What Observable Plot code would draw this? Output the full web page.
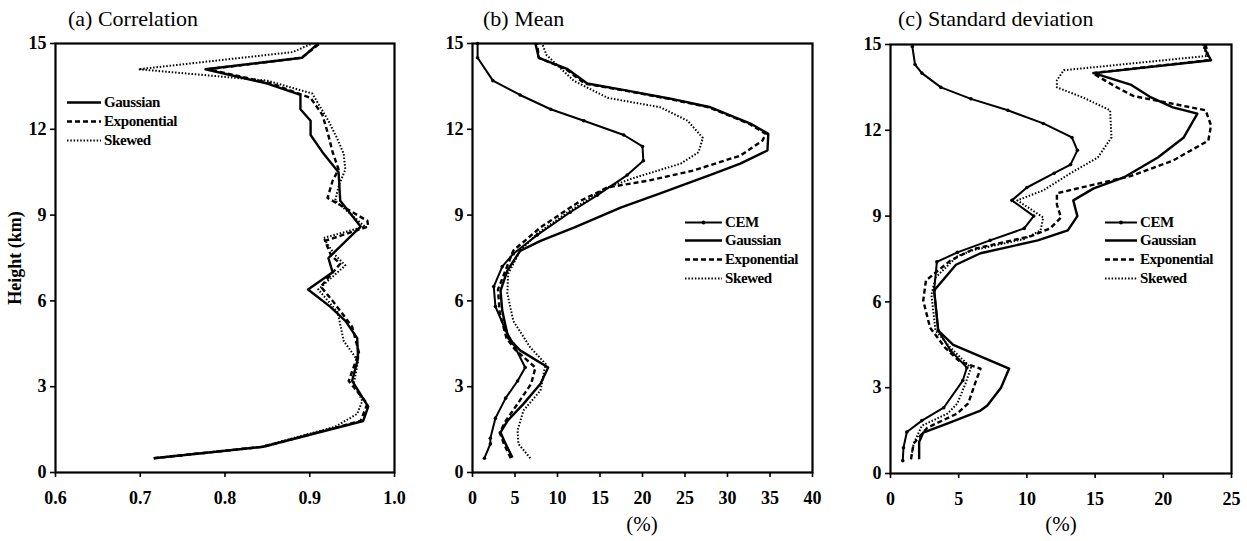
<!DOCTYPE html>
<html><head><meta charset="utf-8">
<script src="https://cdn.jsdelivr.net/npm/d3@7"></script>
<script src="https://cdn.jsdelivr.net/npm/@observablehq/plot@0.6"></script>
<style>
body{margin:0;background:#fff;}
#wrap{position:relative;width:1247px;height:541px;font-family:"Liberation Serif","Times New Roman",serif;color:#000;overflow:hidden;}
.panel{position:absolute;top:0;}
.title{position:absolute;font-size:22px;line-height:1;white-space:nowrap;}
.unit{position:absolute;font-size:21px;line-height:1;transform:translateX(-50%);}
.ylab{position:absolute;font-size:18px;font-weight:bold;white-space:nowrap;transform:translate(-50%,-50%) rotate(-90deg);}
.leg{position:absolute;display:flex;align-items:center;font-size:15px;font-weight:bold;letter-spacing:-0.4px;line-height:1;white-space:nowrap;transform:translateY(-50%);}
.leg svg{display:block;margin-right:3px;}
</style></head>
<body><div id="wrap"></div>
<script>
// ---------- data: heights (km) and values ----------
// (a) Correlation
const aGaussH = [0.5,0.9,1.8,2.3,3.2,4.0,4.7,5.3,5.8,6.4,7.0,7.5,8.6,9.5,10.5,11.2,11.8,12.3,12.7,13.2,13.6,14.1,14.5,15.0];
const aGaussV = [0.716,0.845,0.963,0.969,0.950,0.957,0.956,0.942,0.924,0.898,0.927,0.922,0.960,0.936,0.934,0.915,0.901,0.901,0.889,0.889,0.850,0.777,0.891,0.910];
const aExpoH = [0.5,0.9,1.8,2.4,3.2,4.2,5.1,6.0,6.5,7.3,7.6,8.1,8.6,8.8,9.4,9.6,10.2,10.6,11.2,11.9,12.5,13.1,13.6,14.1,14.5,15.0];
const aExpoV = [0.716,0.845,0.960,0.968,0.946,0.958,0.950,0.927,0.913,0.936,0.925,0.918,0.969,0.968,0.933,0.921,0.927,0.934,0.927,0.921,0.915,0.901,0.855,0.780,0.890,0.912];
const aSkewH = [0.5,0.9,1.6,2.05,2.5,3.1,3.9,4.6,5.6,6.4,7.24,7.6,8.2,8.6,9.5,10.0,10.6,11.15,11.7,12.3,13.25,13.7,14.1,14.7,15.0];
const aSkewV = [0.716,0.843,0.930,0.956,0.962,0.952,0.957,0.940,0.933,0.910,0.942,0.930,0.916,0.965,0.930,0.934,0.942,0.940,0.932,0.922,0.903,0.850,0.698,0.880,0.903];

// (b) Mean (%)
const bCemH = [0.5,1.0,1.2,1.9,2.6,3.2,3.67,4.5,4.97,5.8,6.5,7.2,7.65,8.3,9.1,9.7,10.4,10.9,11.4,11.8,12.3,12.7,13.2,13.7,14.5,15.0];
const bCemV = [1.4,2.1,2.1,2.7,3.9,5.3,6.2,4.8,3.9,2.7,2.5,3.5,4.8,7.6,11.5,14.7,18.2,20.1,20.0,17.8,13.1,9.2,5.6,2.4,0.6,0.6];
const bGaussH = [0.52,1.0,1.4,1.8,2.4,3.1,3.67,4.27,4.7,5.66,6.36,7.06,7.75,8.1,8.57,9.27,9.75,10.45,10.8,11.26,11.84,12.2,12.77,13.07,13.35,13.6,14.1,14.5,15.0];
const bGaussV = [4.7,3.9,3.3,4.1,6.0,8.0,8.9,5.6,4.2,3.5,3.3,4.1,5.6,8.0,12.0,17.5,22.0,28.4,31.5,34.7,34.8,32.7,28.0,23.3,18.2,13.5,11.2,7.8,7.4];
const bExpoH = [0.5,1.0,1.4,1.8,2.4,3.1,3.67,4.3,4.7,5.6,6.4,7.0,7.76,8.57,9.5,9.97,10.2,10.56,11.08,11.6,11.84,12.2,12.77,13.07,13.35,13.6,14.1,14.5,15.0];
const bExpoV = [4.5,3.7,3.2,3.9,5.3,6.9,7.4,5.0,4.0,3.2,3.0,3.8,4.8,8.0,12.7,15.9,20.6,26.0,31.5,34.1,34.5,32.5,27.8,23.0,18.0,13.2,11.0,7.8,7.6];
const bSkewH = [0.5,1.0,1.47,2.17,2.87,3.8,4.37,5.3,6.26,6.95,7.75,8.35,9.16,9.97,10.3,10.8,11.2,11.7,12.3,12.77,13.1,13.7,14.6,15.0];
const bSkewV = [6.8,5.4,5.3,6.0,8.0,8.6,6.8,4.8,4.1,4.2,5.6,7.6,11.5,15.9,19.0,24.5,26.6,27.1,25.3,22.1,15.9,11.9,8.7,8.2];

// (c) Standard deviation (%)
const cCemH = [0.45,0.9,1.45,1.85,2.3,3.25,3.7,4.3,5.0,6.4,7.4,7.73,8.15,8.57,9.0,9.55,10.0,10.5,10.8,11.3,11.75,12.24,12.7,13.1,13.5,14.0,14.3,14.93];
const cCemV = [0.9,0.95,1.2,2.3,3.9,5.3,5.6,4.4,3.5,3.2,3.4,4.9,7.3,9.8,10.5,8.9,10.0,12.0,13.2,13.7,13.3,11.2,8.6,5.9,3.7,2.3,1.8,1.6];
const cGaussH = [0.5,1.1,1.43,1.75,2.2,2.38,3.0,3.67,4.5,5.0,6.4,7.3,7.7,8.15,8.5,9.0,9.55,9.97,10.35,11.05,11.75,12.58,12.8,13.15,13.6,14.0,14.45,14.8,15.0];
const cGaussV = [2.1,2.1,2.4,4.2,6.6,7.1,8.1,8.7,4.6,3.5,3.2,4.8,6.6,10.8,13.0,13.7,13.4,14.9,17.1,19.6,21.5,22.5,20.7,19.1,17.6,14.9,23.5,23.1,23.0];
const cExpoH = [0.5,1.05,1.6,2.1,2.45,3.15,3.67,3.9,4.4,5.1,6.05,6.75,7.45,7.85,8.3,8.57,8.95,9.4,9.8,10.1,10.4,10.94,11.64,12.17,12.7,13.2,13.5,14.0,14.45,14.8,15.0];
const cExpoV = [1.5,1.7,2.7,4.9,5.7,6.2,6.6,5.1,4.0,2.9,2.4,2.6,4.4,6.1,10.3,11.7,12.5,12.2,12.2,14.9,17.6,20.7,23.3,23.5,23.1,17.8,16.6,14.8,23.3,23.2,23.1];
const cSkewH = [0.5,1.05,1.67,2.1,2.45,3.15,3.7,4.4,5.0,6.25,6.85,7.6,7.8,8.2,8.5,8.95,9.55,9.9,10.5,11.05,11.75,12.7,13.15,13.5,13.75,14.1,14.6,15.0];
const cSkewV = [1.5,1.7,2.3,4.2,4.9,5.5,5.9,4.4,3.3,3.0,3.3,4.9,6.0,9.8,11.0,11.2,9.3,11.2,13.2,15.2,16.2,16.1,14.1,12.2,12.2,12.7,23.2,22.9];

// axis ticks & labels
const heightTicks = [0,3,6,9,12,15];
const corrTicks = [0.6,0.7,0.8,0.9,1.0];
const meanTicks = [0,5,10,15,20,25,30,35,40];
const sdTicks = [0,5,10,15,20,25];
const titles = ["(a) Correlation","(b) Mean","(c) Standard deviation"];
const seriesNames3 = ["Gaussian","Exponential","Skewed"];
const seriesNames4 = ["CEM","Gaussian","Exponential","Skewed"];

// ---------- styles ----------
const styles = {
  CEM: {strokeWidth: 2.0, dash: null, dots: true},
  Gaussian: {strokeWidth: 2.4, dash: null},
  Exponential: {strokeWidth: 2.4, dash: "5,3"},
  Skewed: {strokeWidth: 2.0, dash: "1.5,1.8"}
};

const wrap = document.getElementById("wrap");
const serif = "'Liberation Serif','Times New Roman',serif";

function lineMarks(name, H, V) {
  const s = styles[name];
  const marks = [Plot.line(H, {x: V, y: H, stroke: "black", strokeWidth: s.strokeWidth,
    strokeDasharray: s.dash, strokeLinejoin: "round", strokeLinecap: "butt", curve: "linear"})];
  if (s.dots) marks.push(Plot.dot(H, {x: V, y: H, r: 1.8, fill: "black"}));
  return marks;
}

function panel(opts) {
  const fontStyle = {fontFamily: serif, fontSize: 18, fontWeight: "bold"};
  const p = Plot.plot({
    width: opts.width, height: 541,
    marginLeft: opts.ml, marginRight: opts.mr, marginTop: opts.mt, marginBottom: 541 - opts.bottom,
    style: {background: "transparent", fontFamily: serif, fontSize: "18px", fontWeight: "bold", color: "black", overflow: "visible"},
    x: {domain: opts.domain},
    y: {domain: [0, 15]},
    marks: [
      ...opts.series.flatMap(s => lineMarks(s[0], s[1], s[2])),
      Plot.frame({stroke: "black", strokeWidth: 2.2}),
      Plot.axisX({ticks: opts.ticks, tickFormat: opts.fmt, tickSize: 5, tickPadding: 14, strokeWidth: 1.6, label: null, ...fontStyle}),
      Plot.axisY({ticks: heightTicks, tickSize: 5, tickPadding: 4, strokeWidth: 1.6, label: null, ...fontStyle})
    ]
  });
  p.classList.add("panel");
  p.style.left = opts.left + "px";
  p.style.position = "absolute";
  wrap.appendChild(p);
}

panel({left: 0, width: 420, ml: 55, mr: 26, mt: 43, bottom: 472, domain: [0.6, 1.0], ticks: corrTicks, fmt: d => d.toFixed(1),
  series: [["Exponential", aExpoH, aExpoV], ["Skewed", aSkewH, aSkewV], ["Gaussian", aGaussH, aGaussV]]});
panel({left: 420, width: 420, ml: 52, mr: 28, mt: 43, bottom: 472, domain: [0, 40], ticks: meanTicks, fmt: d => String(d),
  series: [["Exponential", bExpoH, bExpoV], ["Skewed", bSkewH, bSkewV], ["Gaussian", bGaussH, bGaussV], ["CEM", bCemH, bCemV]]});
panel({left: 840, width: 407, ml: 50, mr: 16, mt: 44, bottom: 473, domain: [0, 25], ticks: sdTicks, fmt: d => String(d),
  series: [["Exponential", cExpoH, cExpoV], ["Skewed", cSkewH, cSkewV], ["Gaussian", cGaussH, cGaussV], ["CEM", cCemH, cCemV]]});

// titles
[[68, 8], [483, 8], [898, 8]].forEach((pos, i) => {
  const d = document.createElement("div");
  d.className = "title"; d.textContent = titles[i];
  d.style.left = pos[0] + "px"; d.style.top = pos[1] + "px";
  wrap.appendChild(d);
});
// y label
const yl = document.createElement("div");
yl.className = "ylab"; yl.textContent = "Height (km)";
yl.style.left = "15px"; yl.style.top = "258px";
wrap.appendChild(yl);
// unit labels
[642, 1061].forEach(x => {
  const d = document.createElement("div");
  d.className = "unit"; d.textContent = "(%)";
  d.style.left = x + "px"; d.style.top = "514px";
  wrap.appendChild(d);
});

// legends
function legend(names, x, ys, len) {
  names.forEach((n, i) => {
    const s = styles[n];
    const d = document.createElement("div");
    d.className = "leg";
    d.style.left = x + "px"; d.style.top = ys[i] + "px";
    const ns = "http://www.w3.org/2000/svg";
    const svg = document.createElementNS(ns, "svg");
    svg.setAttribute("width", len); svg.setAttribute("height", 8);
    const l = document.createElementNS(ns, "line");
    l.setAttribute("x1", 0); l.setAttribute("x2", len); l.setAttribute("y1", 4); l.setAttribute("y2", 4);
    l.setAttribute("stroke", "black"); l.setAttribute("stroke-width", s.strokeWidth);
    if (s.dash) l.setAttribute("stroke-dasharray", s.dash);
    svg.appendChild(l);
    if (s.dots) {
      const c = document.createElementNS(ns, "circle");
      c.setAttribute("cx", len / 2); c.setAttribute("cy", 4); c.setAttribute("r", 1.9);
      svg.appendChild(c);
    }
    d.appendChild(svg);
    const t = document.createElement("span"); t.textContent = n; d.appendChild(t);
    wrap.appendChild(d);
  });
}
legend(seriesNames3, 67, [102, 121, 140], 34);
legend(seriesNames4, 685, [222, 240, 259, 278], 37);
legend(seriesNames4, 1105, [222, 240, 259, 278], 32);
</script>
</body></html>
